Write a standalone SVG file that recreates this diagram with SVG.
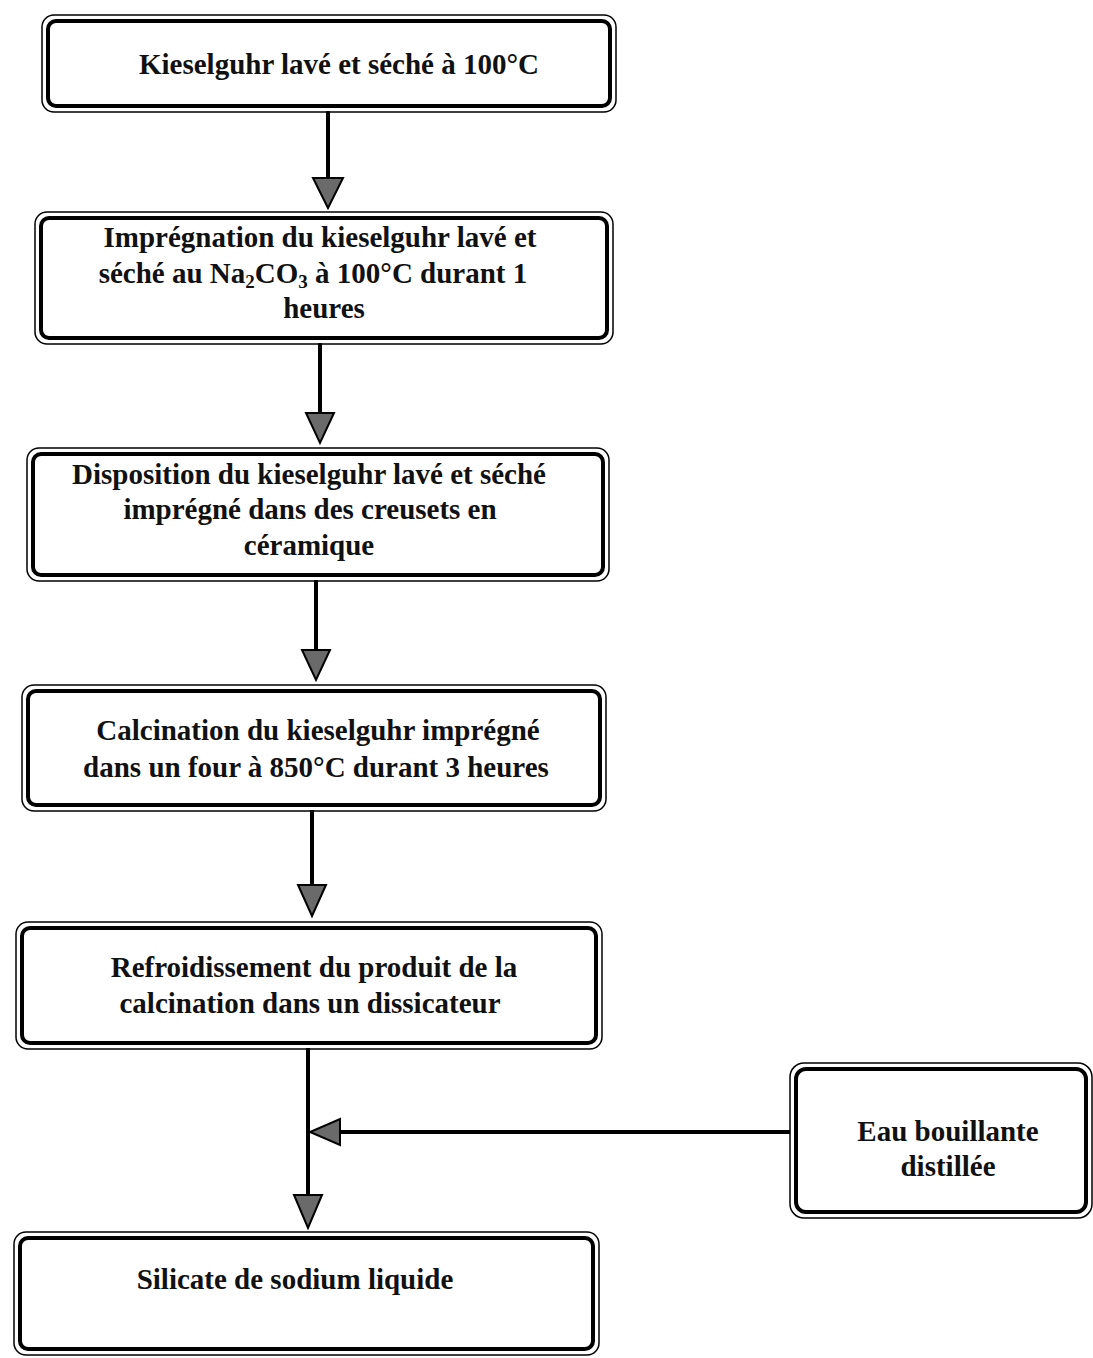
<svg xmlns="http://www.w3.org/2000/svg" width="1093" height="1358" viewBox="0 0 1093 1358">
<style>
.o{fill:none;stroke:#000;stroke-width:1.5}
.i{fill:#fff;stroke:#000;stroke-width:4}
.t{font-family:"Liberation Serif","Times New Roman",serif;font-weight:bold;font-size:29px;fill:#111;text-anchor:middle}
.c{stroke:#000;stroke-width:4;fill:none}
.h{fill:#6a6a6a;stroke:#000;stroke-width:2}
</style>
<rect width="1093" height="1358" fill="#fff"/>
<g id="connectors">
<line class="c" x1="328" y1="111" x2="328" y2="180"/>
<polygon class="h" points="313,178 343,178 328,208"/>
<line class="c" x1="320" y1="343" x2="320" y2="415"/>
<polygon class="h" points="306,413 334,413 320,443"/>
<line class="c" x1="316" y1="580" x2="316" y2="652"/>
<polygon class="h" points="302,650 330,650 316,680"/>
<line class="c" x1="312" y1="810" x2="312" y2="887"/>
<polygon class="h" points="298,885 326,885 312,916"/>
<line class="c" x1="308" y1="1048" x2="308" y2="1197"/>
<polygon class="h" points="294,1195 322,1195 308,1228"/>
<line class="c" x1="790" y1="1132" x2="338" y2="1132"/>
<polygon class="h" points="340,1119 340,1145 310,1132"/>
</g>
<g id="n1">
<rect class="o" x="42" y="15" width="574" height="97" rx="12"/>
<rect class="i" x="48" y="21" width="562" height="85" rx="8"/>
<text class="t" x="339" y="74">Kieselguhr lavé et séché à 100°C</text>
</g>
<g id="n2">
<rect class="o" x="35" y="212" width="578" height="132" rx="12"/>
<rect class="i" x="41" y="218" width="566" height="120" rx="8"/>
<text class="t" x="320" y="247">Imprégnation du kieselguhr lavé et</text>
<text class="t" x="313" y="283">séché au Na<tspan font-size="19" dy="5">2</tspan><tspan dy="-5">CO</tspan><tspan font-size="19" dy="5">3</tspan><tspan dy="-5"> à 100°C durant 1</tspan></text>
<text class="t" x="324" y="318">heures</text>
</g>
<g id="n3">
<rect class="o" x="27" y="448" width="582" height="133" rx="12"/>
<rect class="i" x="33" y="454" width="570" height="121" rx="8"/>
<text class="t" x="309" y="484">Disposition du kieselguhr lavé et séché</text>
<text class="t" x="310" y="519">imprégné dans des creusets en</text>
<text class="t" x="309" y="555">céramique</text>
</g>
<g id="n4">
<rect class="o" x="22" y="685" width="584" height="126" rx="12"/>
<rect class="i" x="28" y="691" width="572" height="114" rx="8"/>
<text class="t" x="318" y="740">Calcination du kieselguhr imprégné</text>
<text class="t" x="316" y="777">dans un four à 850°C durant 3 heures</text>
</g>
<g id="n5">
<rect class="o" x="16" y="922" width="586" height="127" rx="12"/>
<rect class="i" x="22" y="928" width="574" height="115" rx="8"/>
<text class="t" x="314" y="977">Refroidissement du produit de la</text>
<text class="t" x="310" y="1013">calcination dans un dissicateur</text>
</g>
<g id="n6">
<rect class="o" x="14" y="1232" width="585" height="123" rx="12"/>
<rect class="i" x="20" y="1238" width="573" height="111" rx="8"/>
<text class="t" x="295" y="1289">Silicate de sodium liquide</text>
</g>
<g id="n7">
<rect class="o" x="790" y="1063" width="302" height="155" rx="14"/>
<rect class="i" x="796" y="1069" width="290" height="143" rx="10"/>
<text class="t" x="948" y="1141">Eau bouillante</text>
<text class="t" x="948" y="1176">distillée</text>
</g>
</svg>
